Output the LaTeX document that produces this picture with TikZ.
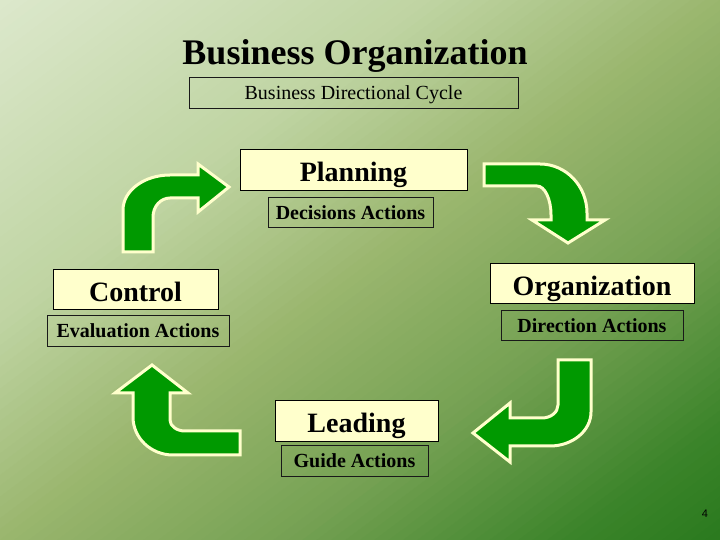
\documentclass[tikz,border=0pt]{standalone}
\usepackage{fontspec}
\setmainfont{Liberation Serif}
\newfontfamily\pagefont{Liberation Sans}
\definecolor{bg0}{HTML}{DCE8CC}
\definecolor{bg1}{HTML}{BFD4A2}
\definecolor{bg2}{HTML}{9AB66E}
\definecolor{bg3}{HTML}{75A153}
\definecolor{bg4}{HTML}{3A8329}
\definecolor{bg5}{HTML}{2A7A1E}
\definecolor{boxfill}{HTML}{FFFFCC}
\definecolor{arrowgreen}{HTML}{009900}
\definecolor{arrowedge}{HTML}{FFFFCC}
\begin{document}
\begin{tikzpicture}[x=1pt,y=1pt,
  mainbox/.style={draw=black, line width=1pt, fill=boxfill, inner sep=0pt,
    text height=25pt, text depth=2pt,
    font=\bfseries\fontsize{28}{32}\selectfont},
  subbox/.style={draw=black!90, line width=1pt, inner sep=0pt,
    text height=12.5pt, text depth=0pt,
    font=\bfseries\fontsize{20}{23}\selectfont},
  bigarrow/.style={fill=arrowgreen, draw=arrowedge, line width=3pt, line join=miter}]
\useasboundingbox (0,0) rectangle (720,540);
% background gradient
\begin{scope}
\clip (0,0) rectangle (720,540);
\foreach \i in {0,...,99}{
  \ifnum\i<30 \pgfmathsetmacro\p{100*(\i+0.5)/30}\colorlet{bandc}{bg1!\p!bg0}%
  \else\ifnum\i<50 \pgfmathsetmacro\p{100*(\i-29.5)/20}\colorlet{bandc}{bg2!\p!bg1}%
  \else\ifnum\i<70 \pgfmathsetmacro\p{100*(\i-49.5)/20}\colorlet{bandc}{bg3!\p!bg2}%
  \else\ifnum\i<90 \pgfmathsetmacro\p{100*(\i-69.5)/20}\colorlet{bandc}{bg4!\p!bg3}%
  \else \pgfmathsetmacro\p{100*(\i-89.5)/10}\colorlet{bandc}{bg5!\p!bg4}%
  \fi\fi\fi\fi
  \pgfmathsetmacro\ca{\i/50}
  \pgfmathsetmacro\cb{(\i+1.2)/50}
  \fill[bandc] ({\ca*720},540) -- ({\cb*720},540) -- (0,{540-\cb*540}) -- (0,{540-\ca*540}) -- cycle;
}
\end{scope}
% arrows
\draw[bigarrow] (123,288) -- (123,330) arc[start angle=180, end angle=90, x radius=47, y radius=35]
  -- (198,365) -- (198,376) -- (229,353) -- (198,328) -- (198,342) -- (170,342)
  arc[start angle=90, end angle=180, x radius=17, y radius=19] -- (153,288) -- cycle;
\draw[bigarrow] (484,376) -- (540,376) arc[start angle=90, end angle=0, x radius=47, y radius=49]
  -- (587,320) -- (605,320) -- (568,297) -- (532,320) -- (551,320) -- (551,325)
  arc[start angle=0, end angle=90, x radius=14, y radius=29] -- (484,354) -- cycle;
\draw[bigarrow] (152,175) -- (188,147) -- (170,147) -- (170,120)
  arc[start angle=180, end angle=270, x radius=15, y radius=11] -- (240,109) -- (240,85) -- (173,85)
  arc[start angle=270, end angle=180, x radius=40, y radius=38] -- (133,147) -- (115,147) -- cycle;
\draw[bigarrow] (591,180) -- (591,128) arc[start angle=0, end angle=-90, x radius=41, y radius=34]
  -- (510,94) -- (510,78) -- (473,107) -- (510,137) -- (510,122) -- (542,122)
  arc[start angle=-90, end angle=0, x radius=16, y radius=13] -- (558,180) -- cycle;
% texts and boxes
\node[font=\bfseries\fontsize{36}{40}\selectfont, anchor=base, inner sep=0pt] (title) at (355,475) {Business Organization};
\node[subbox, font=\fontsize{20}{23}\selectfont, minimum width=329pt, minimum height=31pt] (cycle) at (353.5,446.5) {Business Directional Cycle};
\node[mainbox, minimum width=227pt, minimum height=41pt] (planning) at (353.5,369.5) {Planning};
\node[subbox, minimum width=165pt, minimum height=30pt] (decisions) at (350.5,327) {Decisions Actions};
\node[mainbox, minimum width=165pt, minimum height=40pt] (control) at (135.5,250) {Control};
\node[subbox, minimum width=182pt, minimum height=31pt] (evaluation) at (138,208.5) {Evaluation Actions};
\node[mainbox, minimum width=204pt, minimum height=40pt] (organization) at (592,256) {Organization};
\node[subbox, minimum width=182pt, minimum height=30pt] (direction) at (592,214) {Direction Actions};
\node[mainbox, minimum width=163pt, minimum height=41pt] (leading) at (356.5,119) {Leading};
\node[subbox, minimum width=147pt, minimum height=31pt] (guide) at (354.5,78.5) {Guide Actions};
\node[font=\pagefont\fontsize{11}{13}\selectfont, text=black, inner sep=0pt] (pnum) at (705,26) {4};
\end{tikzpicture}
\end{document}
